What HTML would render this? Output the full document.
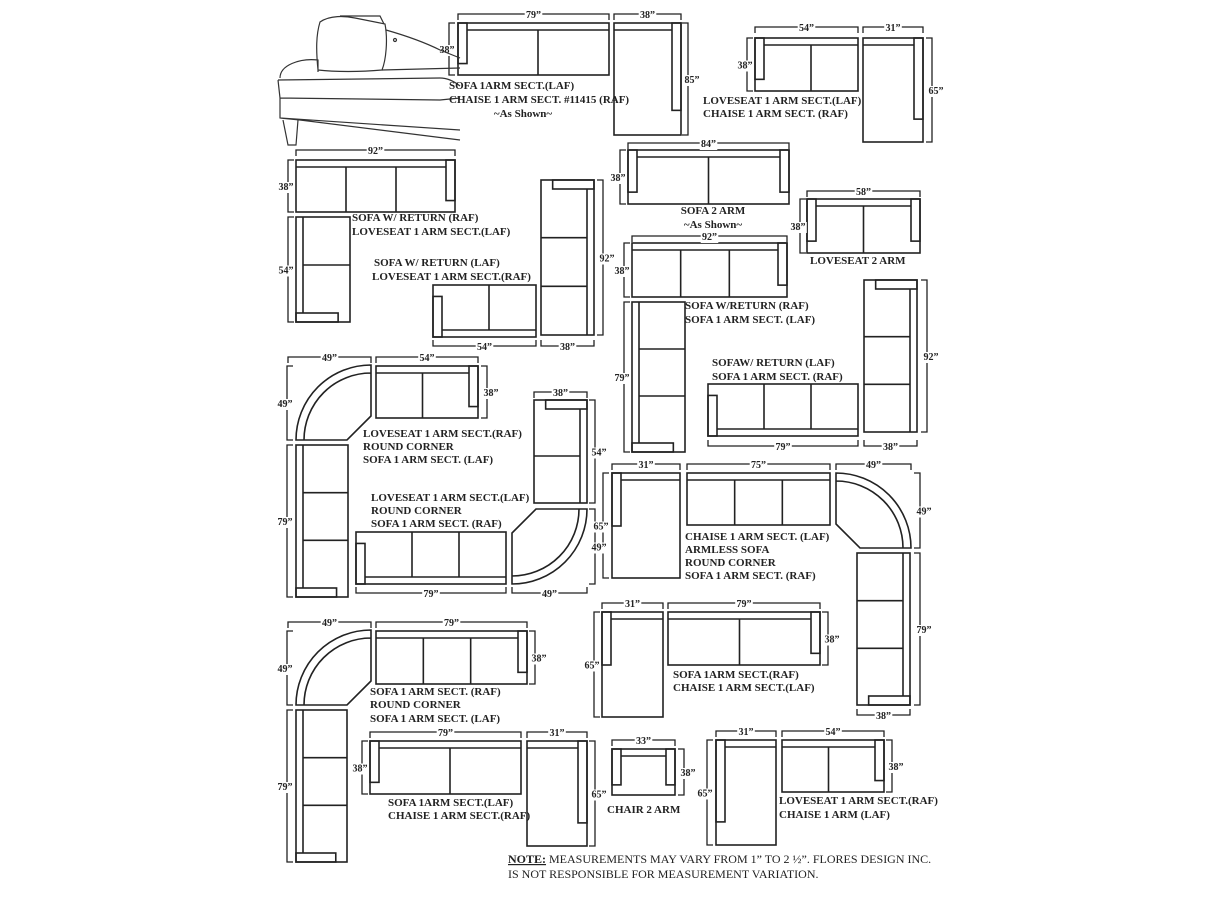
<!DOCTYPE html>
<html><head><meta charset="utf-8"><style>
html,body{margin:0;padding:0;background:#fff;}
svg{display:block;}
text{font-family:"Liberation Serif",serif;font-weight:bold;fill:#222;}
.l{font-size:11px;}
.d{font-size:10px;}
.n{font-size:12px;font-weight:normal;}
</style></head><body>
<svg id="s" width="1220" height="900" viewBox="0 0 1220 900" xmlns="http://www.w3.org/2000/svg">
<g id="shapes" fill="none" stroke="#222" stroke-width="1.6"></g>
<g id="dims" fill="none" stroke="#222" stroke-width="1.3"></g>
<g id="dl"></g>
<!-- sofa sketch -->
<g fill="none" stroke="#333" stroke-width="1.2">
<path d="M280,78 C280,65 300,58 318,60 L318,72 M320,22 C330,15 345,16 355,18 L385,24 C388,40 386,60 382,70 C360,72 335,72 318,70 C316,50 316,35 320,22 Z"/>
<path d="M340,16 L380,16 L384,24"/>
<path d="M386,30 C400,34 420,40 440,50 L460,58"/>
<path d="M382,70 L460,68"/>
<path d="M278,80 L440,78 C448,78 455,82 460,86 M278,80 L280,98 L440,100 L460,98 M280,98 L280,118 L460,130 M280,118 L300,120 M283,120 L288,145 L296,145 L298,120 M300,120 L460,140"/>
<circle cx="395" cy="40" r="1.5"/>
</g>
<!-- labels -->
<g class="l">
<text x="449" y="89">SOFA 1ARM SECT.(LAF)</text>
<text x="449" y="103">CHAISE 1 ARM SECT. #11415 (RAF)</text>
<text x="523" y="117" text-anchor="middle" font-weight="normal">~As Shown~</text>
<text x="703" y="104">LOVESEAT 1 ARM SECT.(LAF)</text>
<text x="703" y="117">CHAISE 1 ARM SECT. (RAF)</text>
<text x="352" y="221">SOFA W/ RETURN (RAF)</text>
<text x="352" y="235">LOVESEAT  1 ARM SECT.(LAF)</text>
<text x="374" y="266">SOFA  W/ RETURN (LAF)</text>
<text x="372" y="280">LOVESEAT 1 ARM SECT.(RAF)</text>
<text x="713" y="214" text-anchor="middle">SOFA 2 ARM</text>
<text x="713" y="228" text-anchor="middle" font-weight="normal">~As Shown~</text>
<text x="810" y="264">LOVESEAT  2 ARM</text>
<text x="685" y="309">SOFA W/RETURN (RAF)</text>
<text x="685" y="323">SOFA 1 ARM SECT. (LAF)</text>
<text x="712" y="366">SOFAW/ RETURN (LAF)</text>
<text x="712" y="380">SOFA 1 ARM SECT. (RAF)</text>
<text x="363" y="437">LOVESEAT 1 ARM SECT.(RAF)</text>
<text x="363" y="450">ROUND CORNER</text>
<text x="363" y="463">SOFA 1 ARM SECT. (LAF)</text>
<text x="371" y="501">LOVESEAT 1 ARM SECT.(LAF)</text>
<text x="371" y="514">ROUND CORNER</text>
<text x="371" y="527">SOFA 1 ARM SECT. (RAF)</text>
<text x="685" y="540">CHAISE 1 ARM SECT. (LAF)</text>
<text x="685" y="553">ARMLESS SOFA</text>
<text x="685" y="566">ROUND CORNER</text>
<text x="685" y="579">SOFA 1 ARM SECT. (RAF)</text>
<text x="673" y="678">SOFA 1ARM SECT.(RAF)</text>
<text x="673" y="691">CHAISE 1 ARM SECT.(LAF)</text>
<text x="370" y="695">SOFA 1 ARM SECT. (RAF)</text>
<text x="370" y="708">ROUND CORNER</text>
<text x="370" y="722">SOFA 1 ARM SECT. (LAF)</text>
<text x="388" y="806">SOFA 1ARM SECT.(LAF)</text>
<text x="388" y="819">CHAISE 1 ARM SECT.(RAF)</text>
<text x="607" y="813">CHAIR 2 ARM</text>
<text x="779" y="804">LOVESEAT 1 ARM SECT.(RAF)</text>
<text x="779" y="818">CHAISE 1 ARM (LAF)</text>
</g>
<text class="n" x="508" y="863"><tspan font-weight="bold" text-decoration="underline">NOTE:</tspan> MEASUREMENTS MAY VARY FROM 1” TO 2 ½”. FLORES DESIGN INC.</text>
<text class="n" x="508" y="878">IS NOT RESPONSIBLE FOR MEASUREMENT VARIATION.</text>
</svg>
<script>
var NS="http://www.w3.org/2000/svg";
function el(p,t,a){var e=document.createElementNS(NS,t);for(var k in a)e.setAttribute(k,a[k]);document.getElementById(p).appendChild(e);return e;}
function P(x,y,w,h,back,arms,n,alen){
 var cx=x+w/2,cy=y+h/2,ang={t:0,b:180,l:-90,r:90}[back];
 var L=(back=='t'||back=='b')?w:h, D=(back=='t'||back=='b')?h:w;
 var g=el('shapes','g',{transform:'translate('+cx+','+cy+') rotate('+ang+')'});
 var x0=-L/2,y0=-D/2,t=7,a=9,al=alen||D*0.78;
 function r(X,Y,W,H){var e=document.createElementNS(NS,'rect');e.setAttribute('x',X);e.setAttribute('y',Y);e.setAttribute('width',W);e.setAttribute('height',H);g.appendChild(e);}
 function ln(a1,b1,a2,b2){var e=document.createElementNS(NS,'line');e.setAttribute('x1',a1);e.setAttribute('y1',b1);e.setAttribute('x2',a2);e.setAttribute('y2',b2);g.appendChild(e);}
 r(x0,y0,L,D);
 var lw=arms.indexOf('L')>=0?a:0, rw=arms.indexOf('R')>=0?a:0;
 if(lw)r(x0,y0,a,al); if(rw)r(x0+L-a,y0,a,al);
 ln(x0+lw,y0+t,x0+L-rw,y0+t);
 var s=(L-lw-rw)/n;
 for(var i=1;i<n;i++){ln(x0+lw+s*i,y0+t,x0+lw+s*i,y0+D);}
}
function C(cx,cy,ang){var r=75,D=51,q=r-D,ri=r-8;
 var g=el('shapes','g',{transform:'translate('+cx+','+cy+') rotate('+ang+')'});
 var p=document.createElementNS(NS,'path');
 p.setAttribute('d','M'+(-r)+',0 A'+r+','+r+' 0 0 1 0,'+(-r)+' L0,'+(-q)+' L'+(-q)+',0 Z M'+(-ri)+',0 A'+ri+','+ri+' 0 0 1 0,'+(-ri));
 g.appendChild(p);}
function lab(x,y,s){var w=s.length*5.2+2;el('dl','rect',{x:x-w/2,y:y-8,width:w,height:11,fill:'#fff'});var t=el('dl','text',{x:x,y:y,'text-anchor':'middle','class':'d'});t.textContent=s;}
function H(x1,x2,y,s,dn){var k=dn?-6:6;el('dims','path',{d:'M'+x1+','+(y+k)+' L'+x1+','+y+' L'+x2+','+y+' L'+x2+','+(y+k)});lab((x1+x2)/2,y+4,s);}
function V(x,y1,y2,s,left){var k=left?6:-6;el('dims','path',{d:'M'+(x+k)+','+y1+' L'+x+','+y1+' L'+x+','+y2+' L'+(x+k)+','+y2});lab(left?x-2:x+4,(y1+y2)/2+4,s);}
var q='”';
P(458,23,151,52,'t','L',2);H(458,609,14,'79'+q);V(449,23,75,'38'+q,1);
P(614,23,67,112,'t','R',1);H(614,681,14,'38'+q);V(688,23,135,'85'+q,0);
P(755,38,103,53,'t','L',2);H(755,858,27,'54'+q);V(747,38,91,'38'+q,1);
P(863,38,60,104,'t','R',1);H(863,923,27,'31'+q);V(932,38,142,'65'+q,0);
P(296,160,159,52,'t','R',3);H(296,455,150,'92'+q);V(288,160,212,'38'+q,1);
P(296,217,54,105,'l','L',2);V(288,217,322,'54'+q,1);
P(541,180,53,155,'r','L',3);V(603,180,335,'92'+q,0);H(541,594,346,'38'+q,1);
P(433,285,103,52,'b','R',2);H(433,536,346,'54'+q,1);
P(628,150,161,54,'t','LR',2);H(628,789,143,'84'+q);V(620,150,204,'38'+q,1);
P(807,199,113,54,'t','LR',2);H(807,920,191,'58'+q);V(800,199,253,'38'+q,1);
P(632,243,155,54,'t','R',3);H(632,787,236,'92'+q);V(624,243,297,'38'+q,1);
P(632,302,53,150,'l','L',3);V(624,302,452,'79'+q,1);
P(864,280,53,152,'r','L',3);V(927,280,432,'92'+q,0);H(864,917,446,'38'+q,1);
P(708,384,150,52,'b','R',3);H(708,858,446,'79'+q,1);
C(371,440,0);H(288,371,357,'49'+q);V(287,366,440,'49'+q,1);
P(376,366,102,52,'t','R',2);H(376,478,357,'54'+q);V(487,366,418,'38'+q,0);
P(296,445,52,152,'l','L',3);V(287,445,597,'79'+q,1);
P(534,400,53,103,'r','L',2);H(534,587,392,'38'+q);V(595,400,503,'54'+q,0);
P(356,532,150,52,'b','R',3);H(356,506,593,'79'+q,1);
C(512,509,180);H(512,587,593,'49'+q,1);V(595,509,584,'49'+q,0);
P(612,473,68,105,'t','L',1,53);H(612,680,464,'31'+q);V(603,473,578,'65'+q,1);
P(687,473,143,52,'t','',3);H(687,830,464,'75'+q);
C(836,548,90);H(836,911,464,'49'+q);V(920,473,548,'49'+q,0);
P(857,553,53,152,'r','R',3);V(920,553,705,'79'+q,0);H(857,910,715,'38'+q,1);
P(602,612,61,105,'t','L',1,53);H(602,663,603,'31'+q);V(594,612,717,'65'+q,1);
P(668,612,152,53,'t','R',2);H(668,820,603,'79'+q);V(828,612,665,'38'+q,0);
C(371,705,0);H(288,371,622,'49'+q);V(287,631,705,'49'+q,1);
P(376,631,151,53,'t','R',3);H(376,527,622,'79'+q);V(535,631,684,'38'+q,0);
P(296,710,51,152,'l','L',3);V(287,710,862,'79'+q,1);
P(370,741,151,53,'t','L',2);H(370,521,732,'79'+q);V(362,741,794,'38'+q,1);
P(527,741,60,105,'t','R',1);H(527,587,732,'31'+q);V(595,741,846,'65'+q,0);
P(612,749,63,46,'t','LR',1);H(612,675,740,'33'+q);V(684,749,795,'38'+q,0);
P(716,740,60,105,'t','L',1);H(716,776,731,'31'+q);V(707,740,845,'65'+q,1);
P(782,740,102,52,'t','R',2);H(782,884,731,'54'+q);V(892,740,792,'38'+q,0);
</script>
</body></html>
